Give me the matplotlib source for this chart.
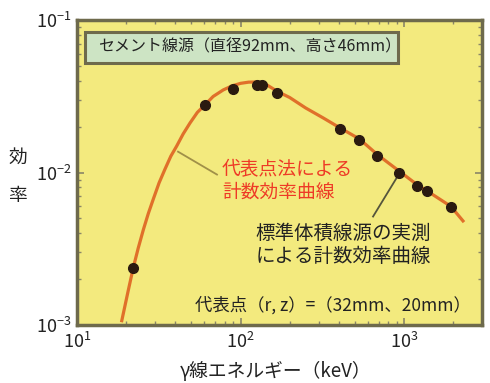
import matplotlib
matplotlib.use('Agg')
import matplotlib.pyplot as plt
from matplotlib.patches import Rectangle

plt.rcParams['font.family'] = ['Noto Sans CJK JP', 'DejaVu Sans']
plt.rcParams['mathtext.fontset'] = 'custom'
plt.rcParams['mathtext.rm'] = 'Liberation Sans'
plt.rcParams['mathtext.it'] = 'Liberation Sans:italic'

# measured points (standard volume source)
energy_pts = [22.1, 60.7, 90, 126, 135, 168, 406, 533, 687, 935, 1205, 1376, 1932]
eff_pts = [0.00238, 0.0278, 0.0354, 0.0376, 0.0373, 0.0332, 0.0193, 0.0164,
           0.0128, 0.00996, 0.00813, 0.00755, 0.00593]

# representative point method curve
energy_curve = [18.8, 20.5, 22.1, 23.7, 25.5, 27.3, 29.3, 31.8, 34.5, 37.5, 40.7,
                44.6, 49.1, 54.5, 60.7, 68, 78.5, 89, 100, 112, 125, 145, 168,
                200, 250, 320, 406, 533, 687, 935, 1205, 1376, 1932, 2290]
eff_curve = [0.00107, 0.00165, 0.00238, 0.0032, 0.00424, 0.00538, 0.0067, 0.00857,
             0.0105, 0.0128, 0.0149, 0.0179, 0.0211, 0.0248, 0.0278, 0.0315,
             0.0348, 0.0370, 0.0384, 0.0391, 0.0392, 0.0375, 0.0340, 0.0310,
             0.0265, 0.0228, 0.0196, 0.0166, 0.0131, 0.0102, 0.0083, 0.0076,
             0.0060, 0.00482]

frame_col = '#6e6a4c'

fig = plt.figure(figsize=(4.9, 3.83), dpi=100)
ax = fig.add_axes([0.157, 0.151, 0.827, 0.797])
ax.set_facecolor('#f3ea7e')

ax.plot(energy_curve, eff_curve, color='#e0702a', lw=2.3, zorder=3)
ax.plot(energy_pts, eff_pts, 'o', color='#2a1a10', ms=7, zorder=4)

ax.set_xscale('log')
ax.set_yscale('log')
ax.set_xlim(10, 3000)
ax.set_ylim(1e-3, 1e-1)

for s in ax.spines.values():
    s.set_color(frame_col)
    s.set_linewidth(2.5)
ax.tick_params(which='both', direction='in', top=True, right=True,
               color='#8a8668', labelsize=13, labelcolor='#222222')
ax.tick_params(which='major', length=5, width=1.2)
ax.tick_params(which='minor', length=3, width=1)
ax.tick_params(axis='x', pad=5)
ax.tick_params(axis='y', pad=4)

# title box
ax.add_patch(Rectangle((0.020, 0.859), 0.773, 0.102, transform=ax.transAxes,
                       facecolor='#cde4c4', edgecolor=frame_col, lw=2.2, zorder=5))
ax.text(0.052, 0.910, 'セメント線源（直径92mm、高さ46mm）', transform=ax.transAxes,
        ha='left', va='center', fontsize=11.5, color='#222222', zorder=6)

# red label
red = '#ee3a26'
ax.text(0.358, 0.508, '代表点法による', transform=ax.transAxes, ha='left',
        va='center', fontsize=13.5, color=red)
ax.text(0.358, 0.436, '計数効率曲線', transform=ax.transAxes, ha='left',
        va='center', fontsize=13.5, color=red)
ax.plot([41.5, 71.8], [0.0137, 0.0097], color='#a09048', lw=1.3, zorder=2)

# black label
ax.text(0.440, 0.302, '標準体積線源の実測', transform=ax.transAxes, ha='left',
        va='center', fontsize=14, color='#222222')
ax.text(0.440, 0.226, 'による計数効率曲線', transform=ax.transAxes, ha='left',
        va='center', fontsize=14, color='#222222')
ax.plot([646, 918], [0.00515, 0.00955], color='#55553c', lw=1.3, zorder=2)

ax.text(0.291, 0.066, '代表点（r, z）=（32mm、20mm）', transform=ax.transAxes,
        ha='left', va='center', fontsize=12.5, color='#222222')

# axis labels
fig.text(0.036, 0.590, '効', ha='center', va='center', fontsize=13.5, color='#222222')
fig.text(0.036, 0.490, '率', ha='center', va='center', fontsize=13.5, color='#222222')
fig.text(0.563, 0.030, 'γ線エネルギー（keV）', ha='center', va='center',
         fontsize=13.5, color='#222222')

fig.savefig('out.png', dpi=100)
